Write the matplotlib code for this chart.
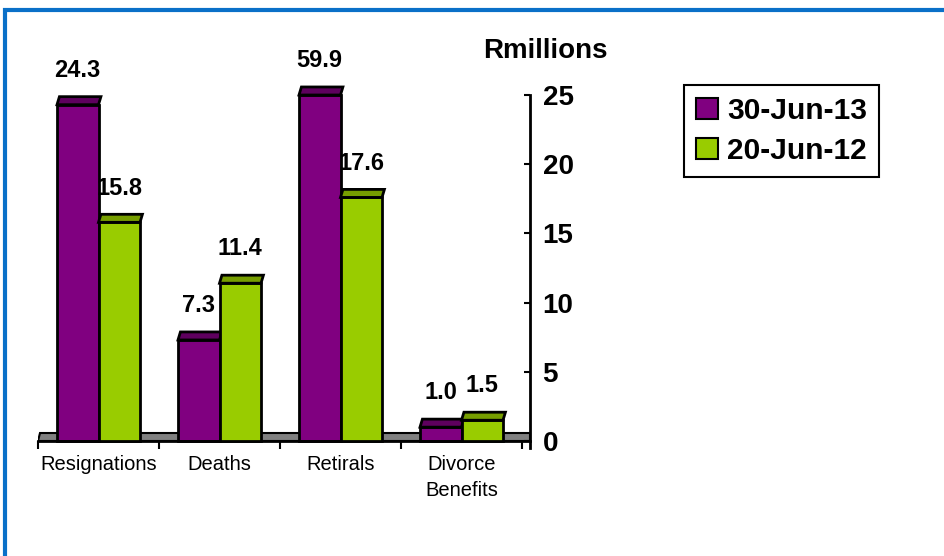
import matplotlib.pyplot as plt
from matplotlib.patches import Polygon, Rectangle, Patch

categories = ['Resignations', 'Deaths', 'Retirals', 'Divorce\nBenefits']
series_names = ['30-Jun-13', '20-Jun-12']
jun13 = [24.3, 7.3, 59.9, 1.0]
jun12 = [15.8, 11.4, 17.6, 1.5]
y_ticks = [0, 5, 10, 15, 20, 25]

plt.rcParams['font.family'] = ['Liberation Sans', 'DejaVu Sans']

purple, purple_top = '#800080', '#5E005E'
green, green_top = '#99CC00', '#779E00'
ymax = 25
bw = 0.343            # bar width (category units)
dx, dy = 0.02, 0.58   # fake 3D depth

fig = plt.figure(figsize=(9.44, 5.56), dpi=100)
ax = fig.add_axes([38/944, 115/556, 492/944, 346/556])
xmax = 3.5 + 8/121
ax.set_xlim(-0.5, xmax)
ax.set_ylim(0, ymax)

# floor
floor = Polygon([(-0.5, 0), (xmax, 0), (xmax, dy), (-0.5 + dx, dy)],
                facecolor='#808080', edgecolor='black', lw=1.5, zorder=1)
ax.add_patch(floor)

for s, (vals, front, top) in enumerate([(jun13, purple, purple_top),
                                        (jun12, green, green_top)]):
    for i, v in enumerate(vals):
        h = min(v, ymax)
        left = i - bw if s == 0 else i
        ax.bar(left, h, width=bw, align='edge', color=front,
               edgecolor='black', lw=2, zorder=2 + s, clip_on=False)
        ax.add_patch(Polygon([(left, h), (left + bw, h),
                              (left + bw + dx, h + dy), (left + dx, h + dy)],
                             facecolor=top, edgecolor='black', lw=2,
                             zorder=2 + s, clip_on=False))
        ax.text(left + bw / 2, h + dy + 1.9, f'{v:.1f}', ha='center',
                va='center', fontsize=17, fontweight='bold', zorder=5)

# axes styling
for side in ['left', 'top']:
    ax.spines[side].set_visible(False)
ax.spines['right'].set_linewidth(2)
ax.spines['right'].set_bounds(-0.5, ymax)
ax.spines['bottom'].set_linewidth(2)
ax.yaxis.tick_right()
ax.set_yticks(y_ticks)
ax.tick_params(axis='y', direction='in', length=4, width=1.5, pad=9,
               labelsize=20)
for t in ax.get_yticklabels():
    t.set_fontweight('bold')

ax.set_xticks([-0.5, 0.5, 1.5, 2.5, 3.5])
ax.set_xticklabels([])
ax.tick_params(axis='x', which='major', direction='out', length=6, width=1.5)
ax.set_xticks(range(len(categories)), minor=True)
ax.set_xticklabels(categories, minor=True, fontsize=14.5, linespacing=1.45)
ax.tick_params(axis='x', which='minor', length=0, pad=10)

fig.text(545/944, 1 - 51/556, 'Rmillions', ha='center', va='center',
         fontsize=20, fontweight='bold')

handles = [Patch(facecolor=purple, edgecolor='black', lw=1.5),
           Patch(facecolor=green, edgecolor='black', lw=1.5)]
leg = fig.legend(handles, series_names, loc='upper left',
                 bbox_to_anchor=(684/944, 1 - 85/556), borderaxespad=0,
                 prop={'size': 21.5, 'weight': 'bold'}, fancybox=False,
                 handlelength=0.75, handleheight=0.75, handletextpad=0.3,
                 borderpad=0.4, labelspacing=0.4, edgecolor='black',
                 framealpha=1)
leg.get_frame().set_linewidth(1.5)

# blue outer frame
fig.add_artist(Rectangle((5/944, -0.1), 1.2, 1.1 - 10/556, fill=False,
                         edgecolor='#0A70C8', lw=3,
                         transform=fig.transFigure))

fig.savefig('out.png', dpi=100)
